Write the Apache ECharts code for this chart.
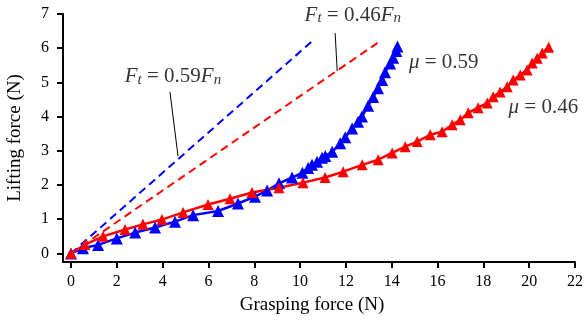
<!DOCTYPE html>
<html>
<head>
<meta charset="utf-8">
<script src="https://cdn.jsdelivr.net/npm/echarts@6/dist/echarts.min.js"></script>
<style>
  html, body { margin: 0; padding: 0; background: #fff; }
  #chart { width: 586px; height: 327px; }
</style>
</head>
<body>
<div id="chart"></div>
<script>
// tick values
const xTicks = [0, 2, 4, 6, 8, 10, 12, 14, 16, 18, 20, 22];
const yTicks = [0, 1, 2, 3, 4, 5, 6, 7];

// mu = 0.59 (blue)
const blueX = [0, 0.52, 1.18, 2.0, 2.8, 3.67, 4.54, 5.33, 6.42, 7.29, 8.03, 8.56, 9.08, 9.65, 10.1,
  10.35, 10.52, 10.74, 10.96, 11.1, 11.4, 11.75, 11.97, 12.27, 12.53, 12.7, 12.97, 13.19, 13.4,
  13.58, 13.71, 13.93, 14.06, 14.2, 14.25];
const blueY = [0, 0.15, 0.25, 0.44, 0.61, 0.76, 0.93, 1.12, 1.24, 1.46, 1.66, 1.84, 2.05, 2.22, 2.36,
  2.5, 2.59, 2.68, 2.8, 2.85, 2.97, 3.22, 3.4, 3.65, 3.85, 4.0, 4.32, 4.57, 4.83,
  5.07, 5.3, 5.55, 5.72, 5.92, 6.05];

// mu = 0.46 (red)
const redX = [0, 0.61, 1.4, 2.36, 3.14, 3.97, 4.89, 5.98, 6.94, 7.9, 9.08, 10.13, 11.09, 11.88,
  12.71, 13.41, 14.02, 14.59, 15.11, 15.68, 16.2, 16.64, 16.99, 17.34, 17.77, 18.17, 18.43,
  18.73, 19.04, 19.3, 19.61, 19.91, 20.13, 20.35, 20.57, 20.85];
const redY = [0, 0.26, 0.5, 0.7, 0.85, 0.99, 1.2, 1.43, 1.6, 1.78, 1.92, 2.07, 2.22, 2.39,
  2.59, 2.74, 2.94, 3.12, 3.27, 3.47, 3.56, 3.76, 3.91, 4.11, 4.26, 4.4, 4.58,
  4.72, 4.87, 5.07, 5.22, 5.36, 5.57, 5.71, 5.86, 6.03];

// friction lines Ft = mu * Fn (end points)
const blueFitX = [0, 10.55];
const blueFitY = [0, 6.22];
const redFitX = [0, 13.5];
const redFitY = [0, 6.21];

// leader lines for the two equation labels
const leader1 = [[4.32, 4.72], [4.67, 2.85]];
const leader2 = [[11.53, 6.44], [11.62, 5.33]];

// annotation anchors
const eqLabels = [
  { x: 4.45, y: 5.16, text: '{i|F}{s|t}{r| = 0.59}{i|F}{s|n}' },
  { x: 12.3, y: 6.97, text: '{i|F}{s|t}{r| = 0.46}{i|F}{s|n}' }
];
const muLabels = [
  { x: 14.75, y: 5.57, text: '{i|μ}{r| = 0.59}' },
  { x: 19.1, y: 4.26, text: '{i|μ}{r| = 0.46}' }
];

const zip = (xs, ys) => xs.map((x, i) => [x, ys[i]]);

const FONT = '"Liberation Serif", "Times New Roman", serif';
const rich = {
  r: { fontFamily: FONT, fontSize: 21, color: '#000', lineHeight: 22 },
  i: { fontFamily: FONT, fontSize: 21, fontStyle: 'italic', color: '#000', lineHeight: 22 },
  s: { fontFamily: FONT, fontSize: 15, fontStyle: 'italic', color: '#000', lineHeight: 11, verticalAlign: 'bottom' }
};

const chart = echarts.init(document.getElementById('chart'));

const option = {
  animation: false,
  backgroundColor: '#fff',
  grid: { left: 63, right: 11, top: 14, bottom: 65, containLabel: false, outerBoundsMode: 'none' },
  xAxis: {
    type: 'value',
    min: -0.35,
    max: 22,
    name: 'Grasping force (N)',
    nameLocation: 'middle',
    nameGap: 34,
    nameTextStyle: { fontFamily: FONT, fontSize: 19, color: '#000', padding: [0, 14, 0, 0] },
    axisLine: { show: true, onZero: false, lineStyle: { color: '#000', width: 2 } },
    axisTick: { show: true, inside: false, length: 6, customValues: xTicks, lineStyle: { color: '#000', width: 2 } },
    axisLabel: { customValues: xTicks, margin: 12, fontFamily: FONT, fontSize: 16, color: '#000' },
    splitLine: { show: false }
  },
  yAxis: {
    type: 'value',
    min: -0.25,
    max: 7,
    name: 'Lifting force (N)',
    nameLocation: 'middle',
    nameGap: 38,
    nameTextStyle: { fontFamily: FONT, fontSize: 19, color: '#000' },
    axisLine: { show: true, onZero: false, lineStyle: { color: '#000', width: 2 } },
    axisTick: { show: true, inside: false, length: 6, customValues: yTicks, lineStyle: { color: '#000', width: 2 } },
    axisLabel: { customValues: yTicks, margin: 14, fontFamily: FONT, fontSize: 16, color: '#000' },
    splitLine: { show: false }
  },
  series: [
    {
      type: 'line', data: zip(blueFitX, blueFitY), symbol: 'none',
      lineStyle: { color: '#0000ff', width: 2, type: [8, 5] }
    },
    {
      type: 'line', data: zip(redFitX, redFitY), symbol: 'none',
      lineStyle: { color: '#ff0000', width: 2, type: [8, 5] }
    },
    {
      type: 'line', data: leader1, symbol: 'none',
      lineStyle: { color: '#000', width: 1 }
    },
    {
      type: 'line', data: leader2, symbol: 'none',
      lineStyle: { color: '#000', width: 1 }
    },
    {
      name: 'mu059', type: 'line', data: zip(blueX, blueY),
      symbol: 'triangle', symbolSize: 12, showAllSymbol: true,
      lineStyle: { color: '#0000ff', width: 2.5 },
      itemStyle: { color: '#0000ff' }
    },
    {
      name: 'mu046', type: 'line', data: zip(redX, redY),
      symbol: 'triangle', symbolSize: 11, showAllSymbol: true,
      lineStyle: { color: '#ff0000', width: 2.5 },
      itemStyle: { color: '#ff0000' }
    },
    {
      type: 'scatter', symbolSize: 0, silent: true,
      data: eqLabels.map(d => ({ value: [d.x, d.y], text: d.text })),
      label: {
        show: true, position: 'inside', align: 'center', verticalAlign: 'middle', color: '#000',
        formatter: p => p.data.text, rich: rich
      }
    },
    {
      type: 'scatter', symbolSize: 0, silent: true,
      data: muLabels.map(d => ({ value: [d.x, d.y], text: d.text })),
      label: {
        show: true, position: 'right', distance: 0, align: 'left', verticalAlign: 'middle', color: '#000',
        formatter: p => p.data.text, rich: rich
      }
    }
  ]
};

chart.setOption(option);
</script>
</body>
</html>
